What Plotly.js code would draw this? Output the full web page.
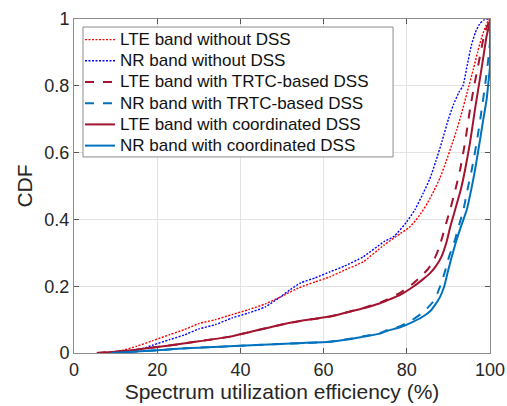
<!DOCTYPE html>
<html>
<head>
<meta charset="utf-8">
<script src="https://cdn.plot.ly/plotly-3.0.1.min.js"></script>
<style>html,body{margin:0;padding:0;background:#fff;}#chart{width:507px;height:406px;}</style>
</head>
<body>
<div id="chart"></div>
<script>
// Series names
const seriesNames = [
  "LTE band without DSS",
  "NR band without DSS",
  "LTE band with TRTC-based DSS",
  "NR band with TRTC-based DSS",
  "LTE band with coordinated DSS",
  "NR band with coordinated DSS"
];

// LTE band without DSS
const lteNoDssX = [6.5, 9, 12, 15, 19, 23, 26.5, 30, 34, 38, 42, 46, 49.5, 54, 58, 61.5, 65, 69.5, 74.5, 78.5, 80.5, 82, 83.5, 85, 86.5, 88, 89.5, 91, 92, 93, 94.5, 96, 97, 98, 99, 99.6, 100];
const lteNoDssY = [0, 0.002, 0.009, 0.02, 0.037, 0.055, 0.07, 0.088, 0.1, 0.115, 0.13, 0.147, 0.167, 0.195, 0.213, 0.228, 0.248, 0.273, 0.323, 0.358, 0.375, 0.395, 0.42, 0.45, 0.485, 0.525, 0.575, 0.63, 0.668, 0.71, 0.78, 0.85, 0.9, 0.945, 0.98, 0.995, 1.0];

// NR band without DSS
const nrNoDssX = [8, 11, 14, 17, 19, 23, 26.5, 30, 34, 38, 42, 46, 49.5, 52, 54.5, 58, 61.5, 65, 69.5, 74.5, 77, 80, 82, 84, 85.5, 87, 88.5, 90, 91.2, 92.5, 93.5, 94.5, 95.5, 96.5, 97.5, 98.5, 99.5, 100];
const nrNoDssY = [0, 0.003, 0.008, 0.015, 0.024, 0.04, 0.054, 0.072, 0.085, 0.105, 0.12, 0.138, 0.167, 0.19, 0.21, 0.225, 0.243, 0.26, 0.288, 0.333, 0.35, 0.393, 0.43, 0.48, 0.52, 0.575, 0.635, 0.7, 0.743, 0.78, 0.8, 0.86, 0.92, 0.96, 0.985, 0.997, 1.0, 1.0];

// LTE band with TRTC-based DSS
const lteTrtcX = [5.5, 10, 15, 20, 25, 30, 37.5, 43, 49.5, 55, 61.5, 66, 69.6, 73.6, 75.2, 78.4, 81.2, 83.5, 85, 86.4, 87.6, 88.6, 89.5, 90.4, 91.7, 92.8, 94, 95.2, 96.2, 97.3, 98.4, 99.2, 100, 100];
const lteTrtcY = [0, 0.004, 0.01, 0.018, 0.026, 0.035, 0.049, 0.065, 0.084, 0.097, 0.109, 0.123, 0.135, 0.151, 0.16, 0.18, 0.205, 0.23, 0.25, 0.275, 0.31, 0.35, 0.39, 0.428, 0.49, 0.548, 0.63, 0.73, 0.8, 0.87, 0.94, 0.975, 0.995, 1.0];

// NR band with TRTC-based DSS
const nrTrtcX = [8.8, 12, 16, 20, 24, 28, 32, 38.5, 44, 49.5, 55, 61.5, 66, 69.6, 73.6, 75.2, 78.4, 81.2, 83.5, 85, 86.4, 87.4, 88.3, 89.2, 90.2, 91.6, 92.6, 93.6, 94.6, 95.6, 96.9, 97.9, 98.8, 99.5, 100, 100];
const nrTrtcY = [0, 0.002, 0.005, 0.008, 0.012, 0.015, 0.017, 0.021, 0.024, 0.027, 0.03, 0.034, 0.042, 0.05, 0.06, 0.068, 0.08, 0.098, 0.118, 0.135, 0.155, 0.18, 0.21, 0.245, 0.29, 0.34, 0.385, 0.428, 0.49, 0.548, 0.638, 0.72, 0.8, 0.87, 0.93, 1.0];

// LTE band with coordinated DSS
const lteCoordX = [5.5, 10, 15, 20, 25, 30, 37.5, 43, 49.5, 55, 61.5, 66, 69.6, 73.6, 75.2, 78.4, 81.6, 84, 85.6, 87, 88.4, 89.5, 90.5, 91.6, 93, 94, 95.2, 96.4, 97.3, 98.2, 99.2, 99.7, 100, 100];
const lteCoordY = [0, 0.004, 0.01, 0.018, 0.026, 0.035, 0.049, 0.065, 0.084, 0.097, 0.109, 0.123, 0.134, 0.149, 0.157, 0.174, 0.199, 0.222, 0.239, 0.26, 0.29, 0.33, 0.38, 0.428, 0.49, 0.548, 0.63, 0.73, 0.8, 0.87, 0.95, 0.975, 0.985, 1.0];

// NR band with coordinated DSS
const nrCoordX = [8.8, 12, 16, 20, 24, 28, 32, 38.5, 44, 49.5, 55, 61.5, 66, 69.6, 73.6, 75.2, 78.4, 81.6, 84, 85.6, 87, 88, 89, 89.8, 90.8, 92, 93.2, 94.4, 95.5, 96.4, 97.6, 98.4, 99.2, 99.7, 100, 100];
const nrCoordY = [0, 0.002, 0.005, 0.008, 0.012, 0.015, 0.017, 0.021, 0.024, 0.027, 0.03, 0.034, 0.041, 0.049, 0.058, 0.066, 0.077, 0.094, 0.11, 0.125, 0.148, 0.168, 0.2, 0.24, 0.288, 0.34, 0.385, 0.428, 0.49, 0.548, 0.638, 0.7, 0.76, 0.82, 0.86, 1.0];

// Tick labels
const xTicks = [0, 20, 40, 60, 80, 100];
const yTicks = [0, 0.2, 0.4, 0.6, 0.8, 1];
const xLabel = "Spectrum utilization efficiency (%)";
const yLabel = "CDF";

const seriesX = [lteNoDssX, nrNoDssX, lteTrtcX, nrTrtcX, lteCoordX, nrCoordX];
const seriesY = [lteNoDssY, nrNoDssY, lteTrtcY, nrTrtcY, lteCoordY, nrCoordY];
const colors = ["#FF0000", "#0000FF", "#A2142F", "#0072BD", "#A2142F", "#0072BD"];
const dashes = ["2px,1.5px", "2px,1.5px", "dash", "dash", "solid", "solid"];
const widths = [1.4, 1.4, 2, 2, 2, 2];

const traces = seriesNames.map((n, i) => ({
  x: seriesX[i], y: seriesY[i],
  name: '<span style="font-size:17px">' + n + '</span>',
  type: "scatter", mode: "lines",
  line: {color: colors[i], dash: dashes[i], width: widths[i], shape: "spline", smoothing: 0.5}
}));

const FONT = "Liberation Sans, Arial, sans-serif";
const axisCommon = {
  showline: true, mirror: "ticks", linecolor: "#8c8c8c", linewidth: 1,
  ticks: "inside", ticklen: 5, tickcolor: "#555555",
  showgrid: true, gridcolor: "#e3e3e3", gridwidth: 1,
  zeroline: false,
  tickfont: {family: FONT, size: 18, color: "#262626"},
};

const layout = {
  width: 507, height: 406,
  margin: {l: 74, r: 17, t: 19, b: 53},
  paper_bgcolor: "#ffffff", plot_bgcolor: "#ffffff",
  showlegend: true,
  xaxis: Object.assign({}, axisCommon, {
    range: [0, 100], tickvals: xTicks, ticktext: xTicks.map(String),
    title: {text: xLabel, font: {family: FONT, size: 21, color: "#262626"}, standoff: 2}
  }),
  yaxis: Object.assign({}, axisCommon, {
    range: [0, 1], tickvals: yTicks, ticktext: yTicks.map(String),
    title: {text: yLabel, font: {family: FONT, size: 21, color: "#262626"}, standoff: 6}
  }),
  shapes: [{
    type: "rect", xref: "paper", yref: "paper", layer: "above",
    x0: 0.0216, x1: 0.767, y0: 0.587, y1: 0.976,
    fillcolor: "#ffffff", line: {color: "#8c8c8c", width: 1}
  }],
  legend: {
    x: 0.0144, y: 0.985, xanchor: "left", yanchor: "top",
    bgcolor: "rgba(0,0,0,0)", borderwidth: 0,
    font: {family: FONT, size: 14, color: "#111111"},
    tracegroupgap: 0
  }
};

Plotly.newPlot("chart", traces, layout, {displayModeBar: false, staticPlot: true});
</script>
</body>
</html>
